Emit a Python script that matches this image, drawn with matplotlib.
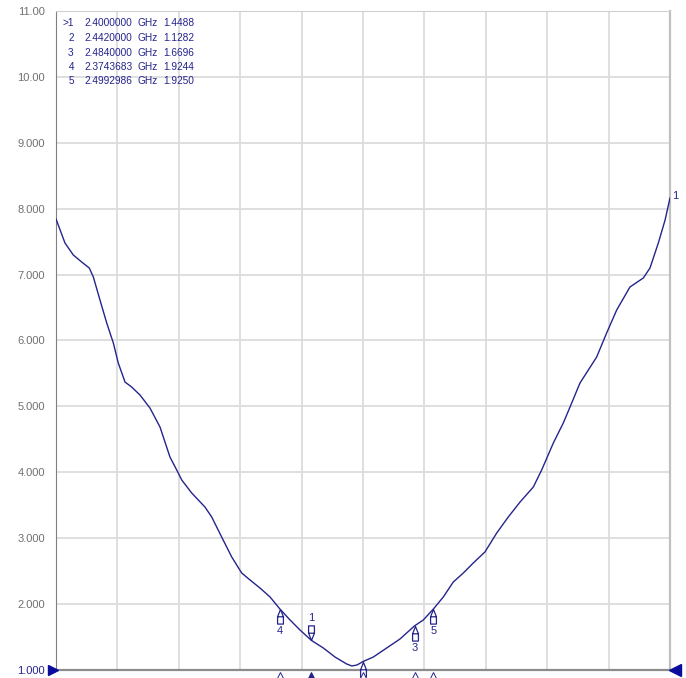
import matplotlib
matplotlib.use('Agg')
import matplotlib.pyplot as plt
from matplotlib.path import Path
import numpy as np

# trace (frequency in GHz, value)
freq = [2.1920, 2.1993, 2.2061, 2.2129, 2.2191, 2.2224, 2.2278, 2.2333, 2.2387,
        2.2427, 2.2482, 2.2536, 2.2604, 2.2685, 2.2767, 2.2848, 2.2903, 2.2944,
        2.3025, 2.3133, 2.3188, 2.3269, 2.3351, 2.3432, 2.3500, 2.3581, 2.3663,
        2.3744, 2.3826, 2.3907, 2.4000, 2.4097, 2.4192, 2.4287, 2.4330, 2.4371,
        2.4420, 2.4504, 2.4613, 2.4721, 2.4840, 2.4911, 2.4993, 2.5074, 2.5155,
        2.5237, 2.5318, 2.5413, 2.5509, 2.5603, 2.5699, 2.5807, 2.5875, 2.5970,
        2.6051, 2.6106, 2.6187, 2.6323, 2.6404, 2.6486, 2.6594, 2.6703, 2.6757,
        2.6825, 2.6880, 2.6920]
swr = [7.844, 7.480, 7.297, 7.191, 7.100, 6.964, 6.615, 6.266, 5.962,
       5.659, 5.370, 5.294, 5.173, 4.976, 4.687, 4.232, 4.035, 3.883,
       3.686, 3.473, 3.322, 3.018, 2.715, 2.472, 2.366, 2.244, 2.108,
       1.924, 1.759, 1.607, 1.449, 1.334, 1.197, 1.091, 1.061, 1.076,
       1.128, 1.197, 1.334, 1.470, 1.670, 1.759, 1.925, 2.108, 2.335,
       2.472, 2.624, 2.791, 3.079, 3.322, 3.549, 3.777, 4.035, 4.445,
       4.748, 4.991, 5.355, 5.750, 6.114, 6.463, 6.812, 6.949, 7.100,
       7.480, 7.829, 8.162]

# markers
mk_num = ['1', '2', '3', '4', '5']
mk_freq = [2.4000000, 2.4420000, 2.4840000, 2.3743683, 2.4992986]
mk_val = [1.4488, 1.1282, 1.6696, 1.9244, 1.9250]
mk_above = [True, False, False, False, False]

ytick_vals = [1, 2, 3, 4, 5, 6, 7, 8, 9, 10, 11]
ytick_labels = ['1.000', '2.000', '3.000', '4.000', '5.000', '6.000',
                '7.000', '8.000', '9.000', '10.00', '11.00']

f_start = 2.192
f_stop = 2.692

navy = '#24248c'
W, H = 686, 678

fig = plt.figure(figsize=(W/100, H/100), dpi=100)
fig.patch.set_facecolor('white')
ax = fig.add_axes([56/W, 1 - 670/H, (670-56)/W, (670-11)/H])

ax.plot(freq, swr, color=navy, lw=1.0, zorder=3)

ax.set_xlim(f_start, f_stop)
ax.set_ylim(1, 11)
ax.set_xticks(np.linspace(f_start, f_stop, 11)[1:-1])
ax.set_xticklabels([])
ax.set_yticks(ytick_vals)
ax.set_yticklabels(ytick_labels, family='Liberation Sans', fontsize=8)
ax.tick_params(length=0, pad=8, colors='#707070')
ax.get_yticklabels()[0].set_color(navy)
ax.grid(True, color='#dcdcdc', lw=1.3)
ax.set_axisbelow(True)

ax.spines['left'].set_color('#808080')
ax.spines['bottom'].set_color('#8c8c8c')
ax.spines['bottom'].set_linewidth(1.6)
ax.spines['top'].set_color('#d0d0d0')
ax.spines['right'].set_color('#c0c0c0')
ax.spines['right'].set_linewidth(1.6)

# marker shape: small arrow with tip at the data point
up = Path([(0, 0), (-0.2, -0.5), (-0.2, -1.0), (0.2, -1.0), (0.2, -0.5), (0, 0),
           (-0.2, -0.5), (0.2, -0.5)],
          [Path.MOVETO, Path.LINETO, Path.LINETO, Path.LINETO, Path.LINETO, Path.LINETO,
           Path.MOVETO, Path.LINETO])
down = Path(up.vertices * [1, -1], up.codes)

for n, f, v, above in zip(mk_num, mk_freq, mk_val, mk_above):
    m = down if above else up
    ax.plot([f], [v], marker=m, ms=21, mfc='white', mec=navy, mew=0.9,
            zorder=4, clip_on=False)
    # small triangle under the x axis
    ax.plot([f], [-0.012], transform=ax.get_xaxis_transform(), marker='^',
            ms=9, mfc=navy if n == '1' else 'white', mec=navy, mew=0.7,
            clip_on=False, zorder=5)
    if n == '2':
        continue  # its label falls below the screen
    off = 22 if above else -22
    ax.annotate(n, (f, v), xytext=(0, off), textcoords='offset pixels',
                ha='center', va='center', color=navy, fontsize=8,
                family='Liberation Sans', annotation_clip=False)

ax.annotate('1', (freq[-1], swr[-1]), xytext=(2, 2), textcoords='offset pixels',
            ha='left', va='center', color=navy, fontsize=8, family='Liberation Sans',
            annotation_clip=False)

# reference level triangles
ax.plot([-0.005], [0], transform=ax.transAxes, marker='>', ms=7, color='#0c0c9c',
        clip_on=False, zorder=6)
ax.plot([1.008], [0], transform=ax.transAxes, marker='<', ms=8, color='#0c0c9c',
        clip_on=False, zorder=6)

# marker table
rows_y = [23.5, 38, 52.5, 67, 81.5]
for i in range(len(mk_num)):
    y = 1 - rows_y[i]/H
    lbl = ('>' if i == 0 else ' ') + mk_num[i]
    kw = dict(fontsize=7.3, color=navy, family='Liberation Sans', va='center')
    fig.text(74/W, y, lbl, ha='right', **kw)
    fig.text(84/W, y, '%.7f' % mk_freq[i], ha='left', **kw)
    fig.text(137/W, y, 'GHz', ha='left', **kw)
    fig.text(163/W, y, '%.4f' % mk_val[i], ha='left', **kw)

fig.savefig('out.png', dpi=100, facecolor='white')
